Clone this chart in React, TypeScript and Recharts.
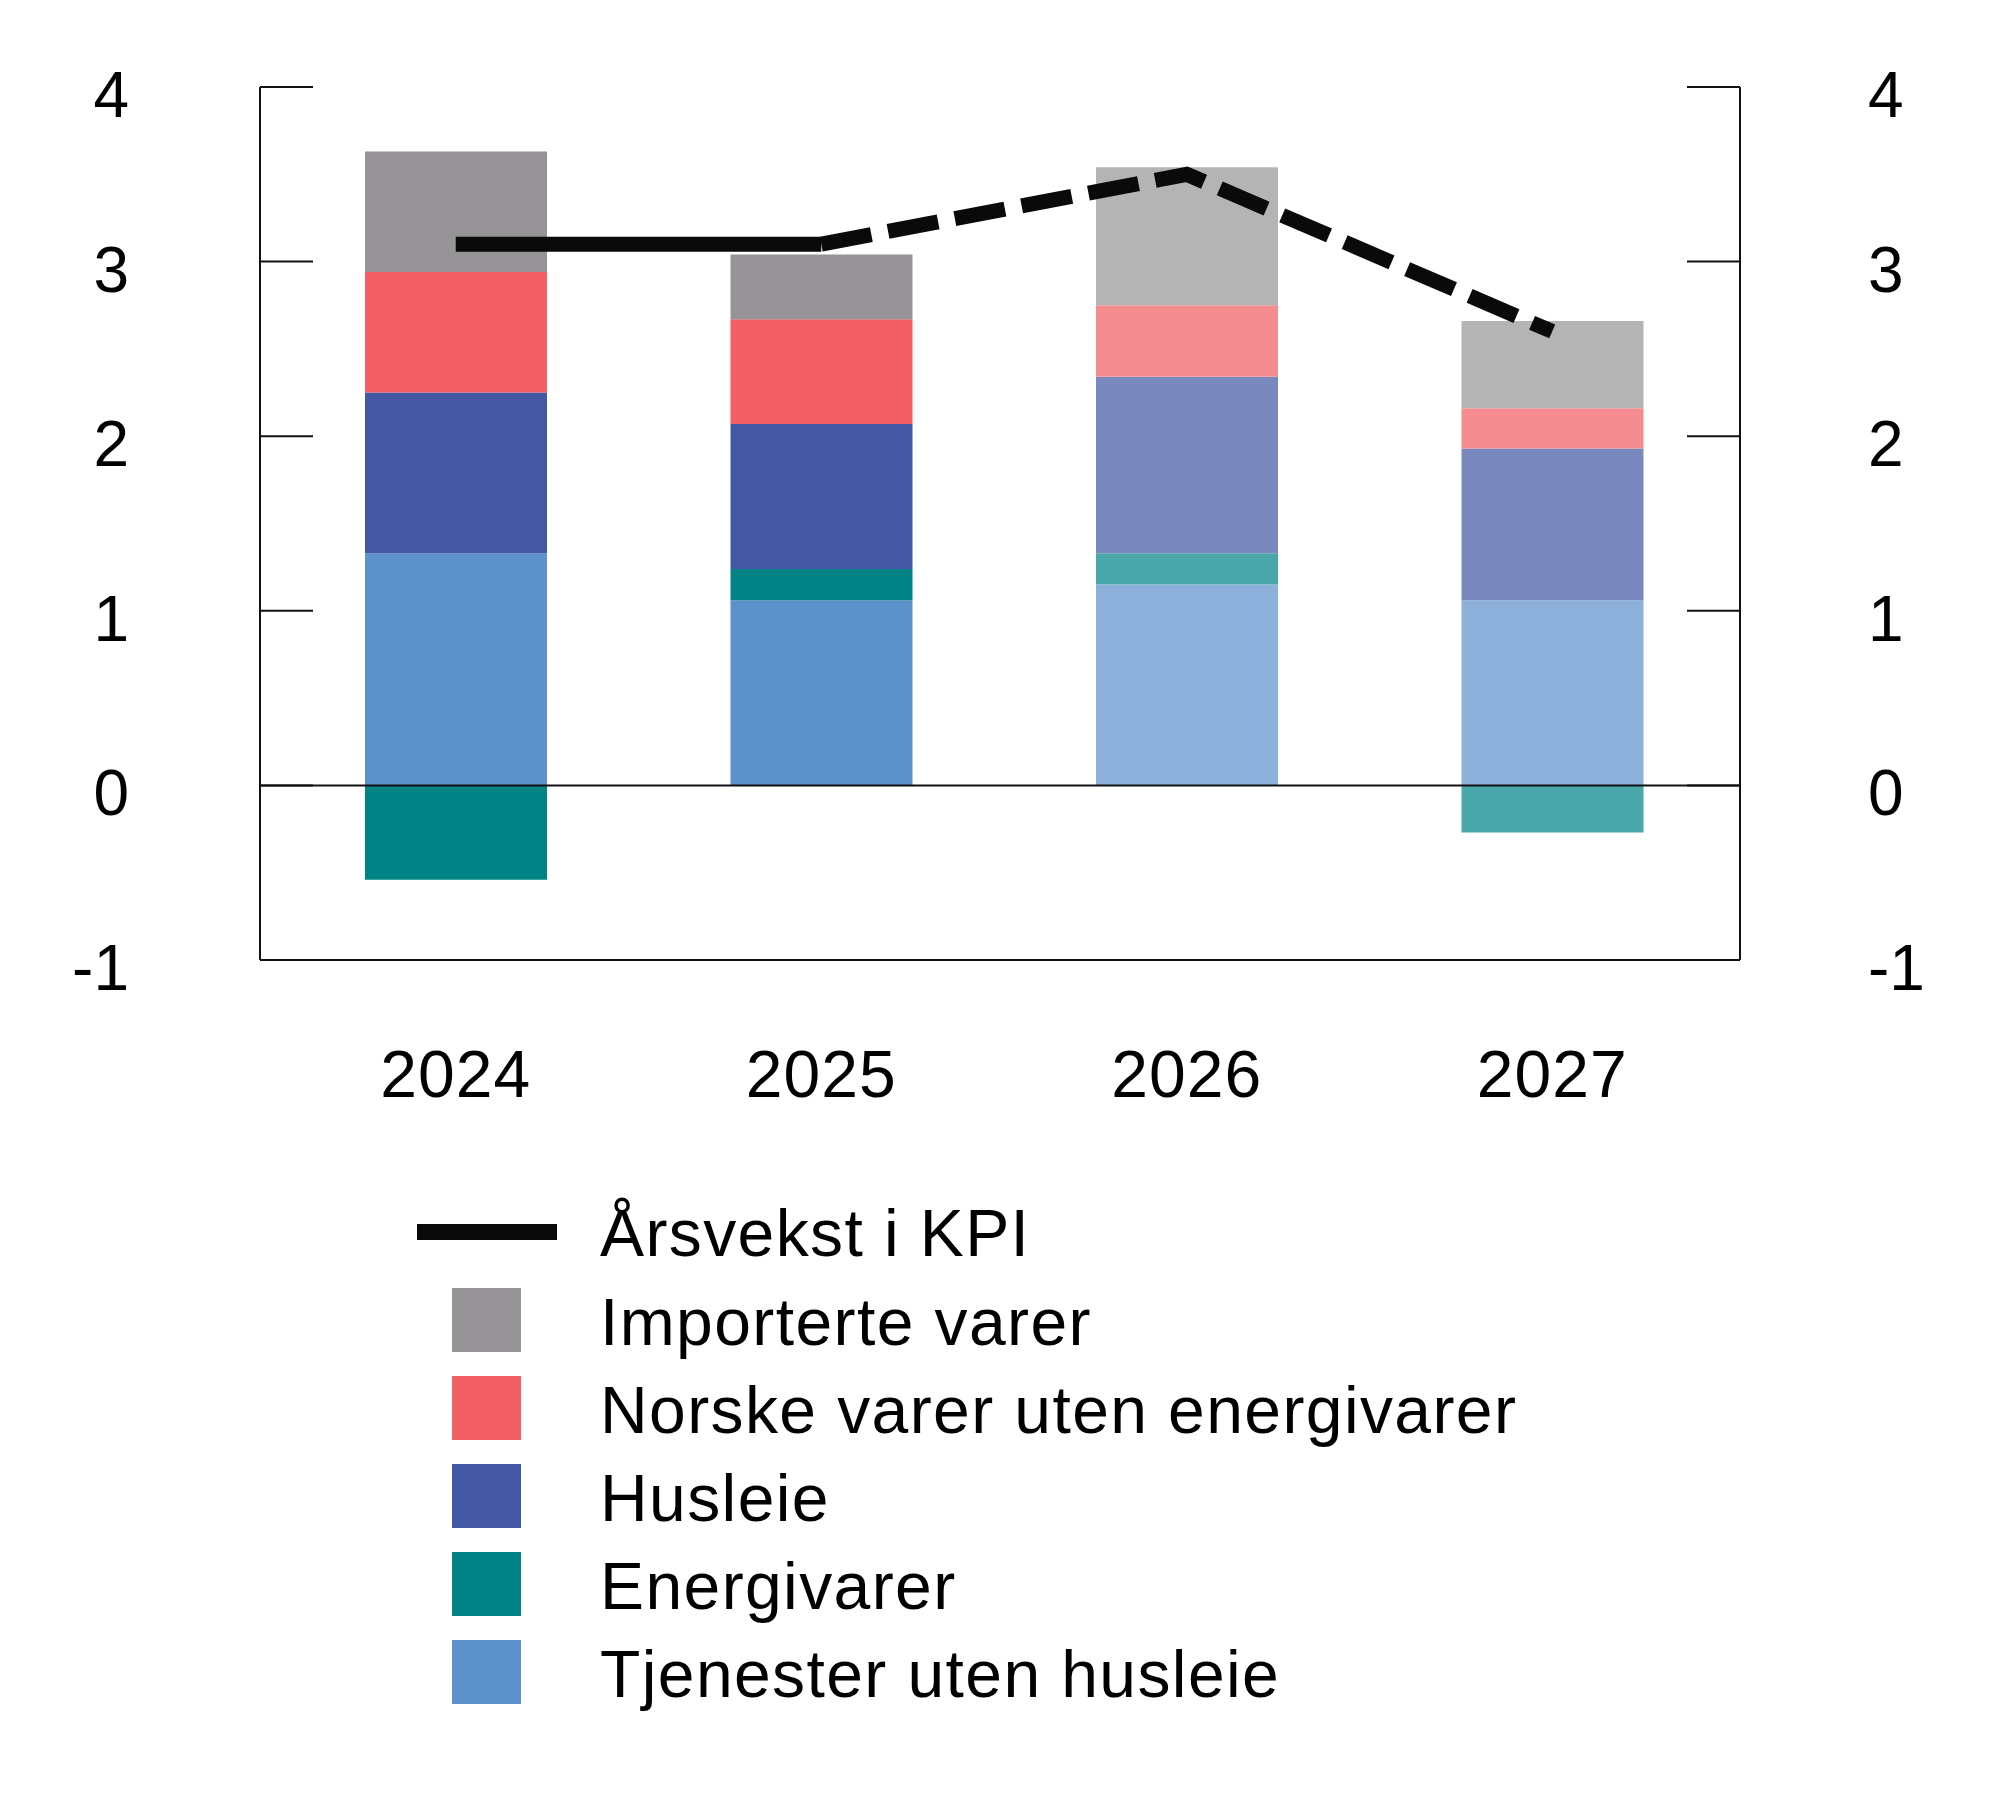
import React from 'react';
import { ComposedChart, Bar, Line, XAxis, YAxis, ReferenceLine, Cell } from 'recharts';

// Contributions to annual CPI growth, percentage points
const years = ['2024', '2025', '2026', '2027'];
const tjenester = [1.33, 1.06, 1.15, 1.06];
const energi = [-0.54, 0.18, 0.18, -0.27];
const husleie = [0.92, 0.83, 1.01, 0.87];
const norske = [0.69, 0.6, 0.41, 0.23];
const importerte = [0.69, 0.37, 0.79, 0.5];
// Annual CPI growth, percent
const kpi = [3.1, 3.1, 3.5, 2.6];
// Index of the last outcome year; later years are projections (lighter bars, dashed line)
const lastOutcome = 1;
const yTicks = [-1, 0, 1, 2, 3, 4];
const yDomain = [-1, 4];

const FONT = '"Liberation Sans", Arial, Helvetica, sans-serif';
const AXIS = '#111111';

// Stacking order from the bottom up
const series = [
  { key: 'tjenester', name: 'Tjenester uten husleie', values: tjenester, color: '#5d91cb', light: '#8db1db' },
  { key: 'energi', name: 'Energivarer', values: energi, color: '#028385', light: '#4ba8aa' },
  { key: 'husleie', name: 'Husleie', values: husleie, color: '#4357a5', light: '#7a89bd' },
  { key: 'norske', name: 'Norske varer uten energivarer', values: norske, color: '#f25f64', light: '#f48c90' },
  { key: 'importerte', name: 'Importerte varer', values: importerte, color: '#969497', light: '#b4b4b5' },
];

const rows = years.map((year, i) => {
  const row: Record<string, number | string | null> = { year };
  series.forEach((s) => {
    row[s.key] = s.values[i];
  });
  row.kpiOutcome = i <= lastOutcome ? kpi[i] : null;
  row.kpiProjection = i >= lastOutcome ? kpi[i] : null;
  return row;
});

const LeftTick = (props: any) => {
  const { x, y, payload } = props;
  return (
    <g>
      <line x1={x} x2={x + 53} y1={y} y2={y} stroke={AXIS} strokeWidth={2} />
      <text x={x - 131} y={y + 30} textAnchor="end" fontSize={64} fontFamily={FONT} fill="#000">
        {payload.value}
      </text>
    </g>
  );
};

const RightTick = (props: any) => {
  const { x, y, payload } = props;
  return (
    <g>
      <line x1={x - 53} x2={x} y1={y} y2={y} stroke={AXIS} strokeWidth={2} />
      <text x={x + 128} y={y + 30} textAnchor="start" fontSize={64} fontFamily={FONT} fill="#000">
        {payload.value}
      </text>
    </g>
  );
};

const YearTick = (props: any) => {
  const { x, y, payload } = props;
  return (
    <text x={x} y={y + 137} textAnchor="middle" fontSize={66} letterSpacing={1} fontFamily={FONT} fill="#000">
      {payload.value}
    </text>
  );
};

const legendItems = [...series].reverse();

export default function App() {
  return (
    <div style={{ position: 'absolute', left: 0, top: 0, width: 2000, height: 1816, background: '#fff' }}>
      <div style={{ position: 'absolute', left: 0, top: 0 }}>
        <ComposedChart
          width={2000}
          height={1120}
          data={rows}
          stackOffset="sign"
          margin={{ top: 87, right: 0, bottom: 0, left: 0 }}
        >
          <XAxis
            dataKey="year"
            height={160}
            padding={{ left: 13, right: 5 }}
            axisLine={{ stroke: AXIS, strokeWidth: 2 }}
            tickLine={false}
            tickSize={0}
            tickMargin={0}
            tick={<YearTick />}
            interval={0}
          />
          <YAxis
            yAxisId="left"
            orientation="left"
            width={260}
            type="number"
            domain={yDomain}
            ticks={yTicks}
            interval={0}
            axisLine={{ stroke: AXIS, strokeWidth: 2 }}
            tickLine={false}
            tickSize={0}
            tickMargin={0}
            tick={<LeftTick />}
          />
          <YAxis
            yAxisId="right"
            orientation="right"
            width={260}
            type="number"
            domain={yDomain}
            ticks={yTicks}
            interval={0}
            axisLine={{ stroke: AXIS, strokeWidth: 2 }}
            tickLine={false}
            tickSize={0}
            tickMargin={0}
            tick={<RightTick />}
          />
          <ReferenceLine yAxisId="left" y={0} stroke={AXIS} strokeWidth={2} />
          {series.map((s) => (
            <Bar
              key={s.key}
              dataKey={s.key}
              name={s.name}
              stackId="kpi"
              yAxisId="left"
              barSize={182}
              isAnimationActive={false}
            >
              {rows.map((_, i) => (
                <Cell key={i} fill={i <= lastOutcome ? s.color : s.light} />
              ))}
            </Bar>
          ))}
          <Line
            yAxisId="left"
            type="linear"
            dataKey="kpiOutcome"
            name="Årsvekst i KPI"
            stroke="#0a0a0a"
            strokeWidth={15}
            strokeLinecap="butt"
            dot={false}
            activeDot={false}
            isAnimationActive={false}
          />
          {/* the right axis shares the same domain, so the projection reads identically on it */}
          <Line
            yAxisId="right"
            type="linear"
            dataKey="kpiProjection"
            name="Årsvekst i KPI"
            stroke="#0a0a0a"
            strokeWidth={15}
            strokeLinecap="butt"
            strokeDasharray="51 17"
            dot={false}
            activeDot={false}
            isAnimationActive={false}
          />
        </ComposedChart>
      </div>
      <svg
        width={2000}
        height={1816}
        style={{ position: 'absolute', left: 0, top: 0, pointerEvents: 'none' }}
        fontFamily={FONT}
      >
        <line x1={417} x2={557} y1={1232} y2={1232} stroke="#0a0a0a" strokeWidth={16} />
        <text x={600} y={1256} fontSize={66} letterSpacing={1.4} fill="#000">
          Årsvekst i KPI
        </text>
        {legendItems.map((s, k) => (
          <g key={s.key}>
            <rect x={452} y={1288 + 88 * k} width={69} height={64} fill={s.color} />
            <text x={600} y={1345 + 88 * k} fontSize={66} letterSpacing={1.4} fill="#000">
              {s.name}
            </text>
          </g>
        ))}
      </svg>
    </div>
  );
}
